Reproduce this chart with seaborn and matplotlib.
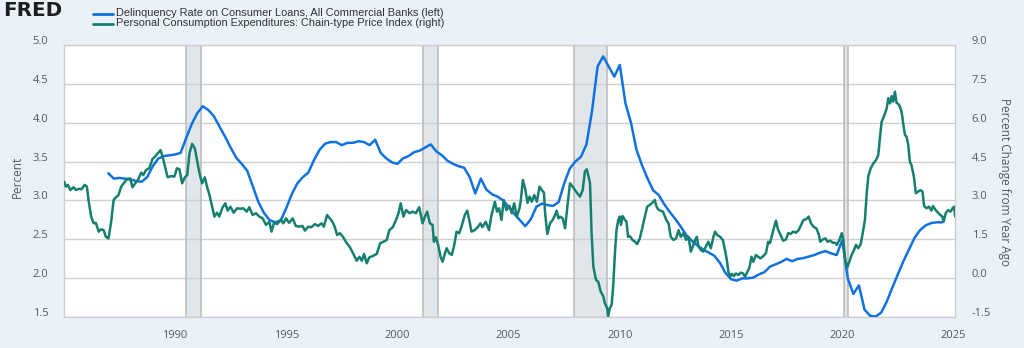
import numpy as np
import matplotlib
matplotlib.use("Agg")
import matplotlib.pyplot as plt
import matplotlib.transforms as mtransforms
from matplotlib.lines import Line2D
import seaborn as sns

# Delinquency Rate on Consumer Loans, All Commercial Banks (percent), quarterly from 1987 Q1
delinquency_first_year = 1987.0
delinquency_rate = [
    3.35, 3.28, 3.29, 3.28,  # 1987
    3.27, 3.25, 3.24, 3.30,  # 1988
    3.44, 3.54, 3.57, 3.58,  # 1989
    3.59, 3.61, 3.80, 3.98,  # 1990
    4.12, 4.21, 4.16, 4.08,  # 1991
    3.95, 3.82, 3.68, 3.55,  # 1992
    3.47, 3.38, 3.18, 2.98,  # 1993
    2.84, 2.75, 2.72, 2.74,  # 1994
    2.90, 3.08, 3.22, 3.30,  # 1995
    3.36, 3.52, 3.65, 3.73,  # 1996
    3.75, 3.75, 3.71, 3.74,  # 1997
    3.74, 3.76, 3.75, 3.71,  # 1998
    3.78, 3.61, 3.54, 3.49,  # 1999
    3.47, 3.54, 3.57, 3.62,  # 2000
    3.64, 3.68, 3.72, 3.63,  # 2001
    3.58, 3.51, 3.47, 3.44,  # 2002
    3.42, 3.30, 3.09, 3.28,  # 2003
    3.14, 3.08, 3.05, 3.00,  # 2004
    2.92, 2.83, 2.75, 2.67,  # 2005
    2.76, 2.92, 2.96, 2.94,  # 2006
    2.93, 2.98, 3.22, 3.41,  # 2007
    3.50, 3.56, 3.72, 4.15,  # 2008
    4.72, 4.85, 4.72, 4.59,  # 2009
    4.74, 4.25, 4.00, 3.65,  # 2010
    3.45, 3.28, 3.13, 3.07,  # 2011
    2.95, 2.85, 2.76, 2.66,  # 2012
    2.55, 2.48, 2.42, 2.37,  # 2013
    2.33, 2.29, 2.20, 2.07,  # 2014
    1.99, 1.97, 2.00, 2.00,  # 2015
    2.01, 2.05, 2.08, 2.15,  # 2016
    2.18, 2.21, 2.25, 2.22,  # 2017
    2.25, 2.26, 2.28, 2.30,  # 2018
    2.33, 2.35, 2.32, 2.30,  # 2019
    2.49, 2.00, 1.80, 1.91,  # 2020
    1.60, 1.52, 1.51, 1.56,  # 2021
    1.70, 1.88, 2.05, 2.22,  # 2022
    2.37, 2.52, 2.62, 2.68,  # 2023
    2.71, 2.72, 2.72,        # 2024
]

# PCE chain-type price index, percent change from a year ago
pce_years = [
    1985.01, 1985.10, 1985.19, 1985.29, 1985.44, 1985.55, 1985.67, 1985.79, 1985.94,
    1986.04, 1986.11, 1986.23, 1986.34, 1986.44, 1986.57, 1986.68, 1986.79, 1986.89,
    1987.01, 1987.13, 1987.24, 1987.34, 1987.46, 1987.58, 1987.69, 1987.84, 1987.98,
    1988.09, 1988.21, 1988.33, 1988.48, 1988.58, 1988.69, 1988.84, 1988.99,
    1989.10, 1989.23, 1989.35, 1989.44, 1989.55, 1989.67, 1989.82, 1989.97,
    1990.09, 1990.20, 1990.32, 1990.44, 1990.55, 1990.65, 1990.77, 1990.89, 1990.99,
    1991.10, 1991.22, 1991.34, 1991.44, 1991.55, 1991.67, 1991.77, 1991.89, 1991.99,
    1992.12, 1992.26, 1992.37, 1992.49, 1992.64, 1992.79, 1992.94,
    1993.07, 1993.22, 1993.34, 1993.49, 1993.64, 1993.79, 1993.94,
    1994.09, 1994.24, 1994.34, 1994.45, 1994.60, 1994.75, 1994.87, 1994.99,
    1995.13, 1995.29, 1995.43, 1995.58, 1995.73, 1995.84, 1995.99,
    1996.13, 1996.29, 1996.43, 1996.59, 1996.69, 1996.84, 1996.96,
    1997.08, 1997.18, 1997.29, 1997.41, 1997.55, 1997.71, 1997.85,
    1998.02, 1998.17, 1998.29, 1998.40, 1998.50, 1998.62, 1998.74, 1998.89,
    1999.07, 1999.22, 1999.37, 1999.52, 1999.64, 1999.79, 1999.94,
    2000.05, 2000.15, 2000.27, 2000.39, 2000.54, 2000.69, 2000.83, 2000.98,
    2001.13, 2001.24, 2001.34, 2001.46, 2001.58, 2001.64, 2001.73, 2001.83, 2001.94,
    2002.03, 2002.14, 2002.21, 2002.33, 2002.44, 2002.54, 2002.66, 2002.78, 2002.88,
    2003.03, 2003.14, 2003.23, 2003.33, 2003.48, 2003.63, 2003.73, 2003.82, 2003.97,
    2004.12, 2004.23, 2004.38, 2004.48, 2004.57, 2004.68, 2004.78, 2004.90,
    2005.04, 2005.14, 2005.25, 2005.37, 2005.49, 2005.55, 2005.64, 2005.74, 2005.85, 2005.94,
    2006.04, 2006.15, 2006.27, 2006.39, 2006.49, 2006.59, 2006.64, 2006.74, 2006.86, 2006.98,
    2007.09, 2007.16, 2007.24, 2007.31, 2007.43, 2007.54, 2007.64, 2007.76, 2007.88,
    2008.03, 2008.21, 2008.33, 2008.43, 2008.51, 2008.58, 2008.66, 2008.73, 2008.81, 2008.93,
    2009.03, 2009.14, 2009.25, 2009.33, 2009.43, 2009.48, 2009.55, 2009.63, 2009.70, 2009.78,
    2009.85, 2009.93,
    2010.00, 2010.05, 2010.12, 2010.23, 2010.30, 2010.37, 2010.45, 2010.57, 2010.68, 2010.78,
    2010.90,
    2011.02, 2011.12, 2011.23, 2011.35, 2011.46, 2011.57, 2011.64, 2011.72, 2011.82, 2011.94,
    2012.09, 2012.19, 2012.29, 2012.41, 2012.53, 2012.64, 2012.74, 2012.86, 2012.98,
    2013.09, 2013.19, 2013.28, 2013.39, 2013.46, 2013.53, 2013.64, 2013.76, 2013.88, 2013.98,
    2014.09, 2014.21, 2014.28, 2014.38, 2014.51, 2014.63, 2014.73, 2014.81, 2014.88, 2014.96,
    2015.03, 2015.13, 2015.22, 2015.33, 2015.43, 2015.54, 2015.63, 2015.70, 2015.82, 2015.92,
    2016.00, 2016.12, 2016.22, 2016.33, 2016.45, 2016.57, 2016.67, 2016.75, 2016.90,
    2017.02, 2017.12, 2017.23, 2017.34, 2017.47, 2017.57, 2017.68, 2017.79, 2017.92,
    2018.04, 2018.15, 2018.26, 2018.38, 2018.49, 2018.59, 2018.71, 2018.83, 2018.94,
    2019.01, 2019.13, 2019.24, 2019.34, 2019.46, 2019.58, 2019.68, 2019.76, 2019.87, 2019.98,
    2020.05, 2020.13, 2020.23, 2020.32, 2020.42, 2020.53, 2020.62, 2020.72, 2020.83, 2020.92,
    2021.02, 2021.10, 2021.17, 2021.28, 2021.40, 2021.52, 2021.62, 2021.70, 2021.77, 2021.88,
    2022.00, 2022.07, 2022.15, 2022.22, 2022.29, 2022.37, 2022.44, 2022.56, 2022.67, 2022.74,
    2022.82, 2022.89, 2022.97,
    2023.04, 2023.11, 2023.22, 2023.31, 2023.41, 2023.52, 2023.61, 2023.68, 2023.79, 2023.90,
    2024.01, 2024.08, 2024.20, 2024.31, 2024.41, 2024.50, 2024.56, 2024.65, 2024.76, 2024.87,
    2024.96, 2025.03, 2025.08,
]
pce_yoy = [
    3.72, 3.53, 3.60, 3.40, 3.51, 3.40, 3.45, 3.43, 3.60,
    3.53, 3.02, 2.38, 2.12, 2.14, 1.80, 1.89, 1.86, 1.60,
    1.54, 2.18, 3.02, 3.12, 3.21, 3.53, 3.66, 3.82, 3.85,
    3.51, 3.66, 3.79, 4.07, 3.98, 4.17, 4.24, 4.60,
    4.69, 4.82, 4.94, 4.69, 4.30, 3.89, 3.94, 3.92,
    4.24, 4.20, 3.66, 3.89, 3.98, 4.82, 5.18, 5.01, 4.56,
    4.05, 3.66, 3.89, 3.53, 3.21, 2.76, 2.38, 2.53, 2.38,
    2.70, 2.89, 2.61, 2.76, 2.53, 2.70, 2.68,
    2.70, 2.57, 2.74, 2.44, 2.51, 2.38, 2.31,
    2.06, 2.18, 1.80, 2.14, 2.09, 2.27, 2.12, 2.31,
    2.14, 2.31, 2.02, 1.99, 2.02, 1.84, 1.99,
    1.97, 2.09, 2.02, 2.12, 1.99, 2.44, 2.31,
    2.18, 1.99, 1.67, 1.74, 1.60, 1.37, 1.22,
    0.94, 0.68, 0.83, 0.68, 0.94, 0.58, 0.81, 0.86,
    0.94, 1.35, 1.41, 1.48, 1.86, 1.97, 2.25,
    2.51, 2.89, 2.38, 2.63, 2.51, 2.57, 2.51, 2.74,
    2.12, 2.38, 2.57, 2.12, 2.06, 1.41, 1.58, 1.29, 0.83,
    0.64, 0.97, 1.16, 0.97, 0.90, 1.22, 1.80, 1.74, 1.99,
    2.44, 2.61, 2.25, 1.80, 1.86, 1.99, 2.12, 1.97, 2.18,
    1.86, 2.44, 2.95, 2.57, 2.70, 2.25, 3.02, 2.63,
    2.79, 2.51, 2.89, 2.38, 2.70, 3.02, 3.79, 3.47, 2.91, 3.15,
    2.95, 3.21, 2.95, 3.53, 3.40, 3.30, 2.51, 1.71, 2.12, 2.25,
    2.44, 2.61, 2.31, 2.38, 2.31, 1.93, 2.76, 3.66, 3.53,
    3.34, 3.15, 3.40, 4.11, 4.20, 3.98, 3.66, 1.74, 0.45, -0.06,
    -0.13, -0.51, -0.68, -0.96, -1.15, -1.45, -1.15, -1.03, -0.32, 0.97,
    1.86, 2.25,
    2.38, 2.06, 2.40, 2.25, 2.18, 1.60, 1.63, 1.48, 1.41, 1.32,
    1.54,
    1.99, 2.38, 2.76, 2.83, 2.91, 3.02, 2.79, 2.66, 2.61, 2.57,
    2.25, 2.12, 1.60, 1.48, 1.54, 1.86, 1.60, 1.74, 1.48,
    1.60, 1.03, 1.22, 1.48, 1.60, 1.25, 1.09, 1.03, 1.25, 1.41,
    1.16, 1.60, 1.80, 1.67, 1.60, 1.48, 1.09, 0.71, 0.26, 0.06,
    0.17, 0.09, 0.19, 0.13, 0.22, 0.19, 0.06, 0.19, 0.39, 0.83,
    0.64, 0.90, 0.83, 0.77, 0.86, 0.97, 1.41, 1.35, 1.86,
    2.22, 1.86, 1.67, 1.45, 1.50, 1.74, 1.71, 1.80, 1.76,
    1.86, 2.06, 2.25, 2.28, 2.38, 2.12, 1.99, 1.93, 1.71,
    1.41, 1.50, 1.54, 1.41, 1.45, 1.37, 1.37, 1.29, 1.48, 1.74,
    1.48, 0.71, 0.43, 0.64, 0.90, 1.09, 1.29, 1.16, 1.32, 1.74,
    2.25, 3.28, 3.92, 4.24, 4.43, 4.56, 4.75, 5.46, 6.03, 6.25,
    6.55, 6.94, 6.74, 7.02, 6.81, 7.19, 6.77, 6.68, 6.42, 5.97,
    5.52, 5.46, 5.14,
    4.49, 4.37, 3.92, 3.28, 3.34, 3.40, 3.34, 2.79, 2.70, 2.76,
    2.61, 2.79, 2.63, 2.53, 2.44, 2.38, 2.18, 2.51, 2.63, 2.57,
    2.70, 2.76, 2.38,
]

# NBER recession periods (decimal years)
recession_start = [1990.50, 2001.17, 2007.92, 2020.08]
recession_end = [1991.17, 2001.83, 2009.42, 2020.25]

left_ticks = [1.5, 2.0, 2.5, 3.0, 3.5, 4.0, 4.5, 5.0]
right_ticks = [-1.5, 0.0, 1.5, 3.0, 4.5, 6.0, 7.5, 9.0]
year_ticks = [1990, 1995, 2000, 2005, 2010, 2015, 2020, 2025]

left_series_label = "Delinquency Rate on Consumer Loans, All Commercial Banks (left)"
right_series_label = "Personal Consumption Expenditures: Chain-type Price Index (right)"

BG = "#eaf1f9"
BLUE = "#1072e0"
GREEN = "#15806f"
TICK_COLOR = "#595959"
GRID = "#d0d0d0"

sns.set_style("white")
plt.rcParams["font.family"] = ["Open Sans", "DejaVu Sans"]

W_PX, H_PX = 1024, 348
fig = plt.figure(figsize=(W_PX / 100, H_PX / 100), dpi=100, facecolor=BG)

x0, x1, y_top, y_bot = 63.8, 955.0, 44.7, 317.3
ax1 = fig.add_axes([x0 / W_PX, 1 - y_bot / H_PX, (x1 - x0) / W_PX, (y_bot - y_top) / H_PX])
ax1.set_facecolor("white")
ax2 = ax1.twinx()

# recession bars
for s, e in zip(recession_start, recession_end):
    ax1.axvspan(s, e, facecolor="#e1e6eb", edgecolor="none", zorder=0.5)
    ax1.axvline(s, color="#bdbdbd", lw=1.2, zorder=0.6)
    ax1.axvline(e, color="#bdbdbd", lw=1.2, zorder=0.6)

delinquency_years = delinquency_first_year + 0.25 * np.arange(len(delinquency_rate))
sns.lineplot(x=delinquency_years, y=delinquency_rate, ax=ax1, color=BLUE, linewidth=1.8, zorder=3)
sns.lineplot(x=pce_years, y=pce_yoy, ax=ax2, color=GREEN, linewidth=1.8, zorder=3)

ax1.set_xlim(1985.0, 2025.07)
ax1.set_ylim(left_ticks[0], left_ticks[-1])
ax2.set_ylim(right_ticks[0], right_ticks[-1])

ax1.set_yticks(left_ticks)
ax1.set_yticklabels([f"{v:.1f}" for v in left_ticks])
ax2.set_yticks(right_ticks)
ax2.set_yticklabels([f"{v:.1f}" for v in right_ticks])
ax1.set_xticks(year_ticks)
ax1.set_xticklabels([str(y) for y in year_ticks])

ax1.yaxis.grid(True, color=GRID, lw=1.0)
ax1.xaxis.grid(False)
ax2.grid(False)
ax1.set_axisbelow(True)

for sp in ax1.spines.values():
    sp.set_color("#cfcfcf")
    sp.set_linewidth(1.0)
for sp in ax2.spines.values():
    sp.set_visible(False)

ax1.tick_params(axis="y", length=0, pad=11, labelsize=8, labelcolor=TICK_COLOR)
ax2.tick_params(axis="y", length=0, pad=12, labelsize=8, labelcolor=TICK_COLOR)
ax1.tick_params(axis="x", length=4, width=1, color="#cfcfcf", pad=5, labelsize=8,
                labelcolor=TICK_COLOR, direction="out")
ax1.set_xlabel("")
ax1.set_ylabel("")
ax2.set_ylabel("")

# value labels sit slightly above their grid lines
lift = mtransforms.ScaledTranslation(0, 0.05, fig.dpi_scale_trans)
for lbl in ax1.get_yticklabels() + ax2.get_yticklabels():
    lbl.set_transform(lbl.get_transform() + lift)

fig.text(17 / W_PX, 1 - 177 / H_PX, "Percent", rotation=90, ha="center", va="center",
         fontsize=8.5, color=TICK_COLOR)
fig.text(1005 / W_PX, 1 - 182 / H_PX, "Percent Change from Year Ago", rotation=270,
         ha="center", va="center", fontsize=8.5, color=TICK_COLOR)

# header: brand mark and series key
fig.text(3 / W_PX, 1 - 10 / H_PX, "FRED", fontsize=14.3, fontweight="bold",
         family="DejaVu Sans", color="#1d1d1d", ha="left", va="center")
key_texts = []
for y_px, col, text in [(13.5, BLUE, left_series_label), (23.5, GREEN, right_series_label)]:
    fig.add_artist(Line2D([93 / W_PX, 113 / W_PX], [1 - y_px / H_PX] * 2,
                          transform=fig.transFigure, color=col, lw=2))
    key_texts.append(fig.text(116 / W_PX, 1 - y_px / H_PX, text, fontsize=8.4,
                              family="Liberation Sans", color="#333333",
                              ha="left", va="center"))

# size the key text so the two entries span about 328 px on average
renderer = fig.canvas.get_renderer()
widths = [t.get_window_extent(renderer).width for t in key_texts]
scale = 328.0 / np.mean(widths)
for t in key_texts:
    t.set_fontsize(t.get_fontsize() * scale)

fig.savefig("out.png", dpi=100, facecolor=BG)
